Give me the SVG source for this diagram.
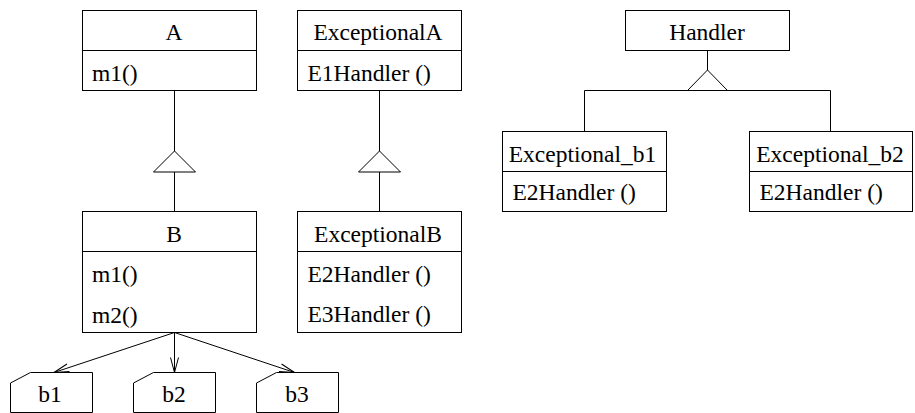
<svg xmlns="http://www.w3.org/2000/svg" width="915" height="413" viewBox="0 0 915 413">
  <style>
    .box { fill: #fff; stroke: #000; stroke-width: 1; }
    .sep { stroke: #000; stroke-width: 1; fill: none; }
    .line { stroke: #000; stroke-width: 1; fill: none; }
    .tri { fill: #fff; stroke: #000; stroke-width: 1; }
    text { font-family: "Liberation Serif", "Times New Roman", serif; font-size: 23.5px; fill: #000; }
    .c { text-anchor: middle; }
  </style>
  <defs>
    <marker id="open" markerUnits="userSpaceOnUse" markerWidth="20" markerHeight="12" viewBox="-16 -6 18 12" refX="0" refY="0" orient="auto">
      <path d="M-15,-4 L0,0 L-15,4" fill="none" stroke="#000" stroke-width="1"/>
    </marker>
  </defs>

  <!-- class A -->
  <g id="A">
    <rect class="box" x="82.5" y="10.5" width="174" height="80"/>
    <line class="sep" x1="82.5" y1="50.5" x2="256.5" y2="50.5"/>
    <text class="c" x="174" y="40">A</text>
    <text x="92" y="81">m1()</text>
  </g>

  <!-- class B -->
  <g id="B">
    <rect class="box" x="82.5" y="211.5" width="174" height="121"/>
    <line class="sep" x1="82.5" y1="251.5" x2="256.5" y2="251.5"/>
    <text class="c" x="174" y="242">B</text>
    <text x="92" y="282">m1()</text>
    <text x="92" y="323">m2()</text>
  </g>

  <!-- class ExceptionalA -->
  <g id="ExceptionalA">
    <rect class="box" x="297.5" y="10.5" width="164" height="80"/>
    <line class="sep" x1="297.5" y1="50.5" x2="461.5" y2="50.5"/>
    <text class="c" x="378" y="40">ExceptionalA</text>
    <text x="307.5" y="81">E1Handler ()</text>
  </g>

  <!-- class ExceptionalB -->
  <g id="ExceptionalB">
    <rect class="box" x="297.5" y="211.5" width="164" height="121"/>
    <line class="sep" x1="297.5" y1="251.5" x2="461.5" y2="251.5"/>
    <text class="c" x="378" y="242">ExceptionalB</text>
    <text x="307.5" y="282">E2Handler ()</text>
    <text x="307.5" y="322">E3Handler ()</text>
  </g>

  <!-- class Handler -->
  <g id="Handler">
    <rect class="box" x="625.5" y="10.5" width="164" height="40"/>
    <text class="c" x="707" y="40">Handler</text>
  </g>

  <!-- class Exceptional_b1 -->
  <g id="Exceptional_b1">
    <rect class="box" x="502.5" y="131.5" width="164" height="80"/>
    <line class="sep" x1="502.5" y1="171.5" x2="666.5" y2="171.5"/>
    <text class="c" x="582.5" y="162">Exceptional_b1</text>
    <text x="512.5" y="200">E2Handler ()</text>
  </g>

  <!-- class Exceptional_b2 -->
  <g id="Exceptional_b2">
    <rect class="box" x="749.5" y="131.5" width="163" height="80"/>
    <line class="sep" x1="749.5" y1="171.5" x2="912.5" y2="171.5"/>
    <text class="c" x="830" y="162">Exceptional_b2</text>
    <text x="759.5" y="200">E2Handler ()</text>
  </g>

  <!-- objects b1, b2, b3 (folded top-left corner) -->
  <g id="b1">
    <path class="box" d="M10.5,383 L30.5,372.5 L92.5,372.5 L92.5,412.5 L10.5,412.5 Z"/>
    <text class="c" x="50" y="402">b1</text>
  </g>
  <g id="b2">
    <path class="box" d="M133.5,383 L153.5,372.5 L215.5,372.5 L215.5,412.5 L133.5,412.5 Z"/>
    <text class="c" x="174" y="402">b2</text>
  </g>
  <g id="b3">
    <path class="box" d="M256.5,383 L276.5,372.5 L338.5,372.5 L338.5,412.5 L256.5,412.5 Z"/>
    <text class="c" x="297" y="402">b3</text>
  </g>

  <!-- connectors -->
  <g id="connectors">
    <!-- A <|- B -->
    <line class="line" x1="174.5" y1="90.5" x2="174.5" y2="151"/>
    <polygon class="tri" points="174.5,151 153.5,172 195.5,172"/>
    <line class="line" x1="174.5" y1="172" x2="174.5" y2="211.5"/>

    <!-- ExceptionalA <|- ExceptionalB -->
    <line class="line" x1="379.5" y1="90.5" x2="379.5" y2="151"/>
    <polygon class="tri" points="379.5,151 358.5,172 400.5,172"/>
    <line class="line" x1="379.5" y1="172" x2="379.5" y2="211.5"/>

    <!-- Handler <|- Exceptional_b1, Exceptional_b2 -->
    <line class="line" x1="707.5" y1="50.5" x2="707.5" y2="70"/>
    <polygon class="tri" points="707.5,70 687.5,90.5 727.5,90.5"/>
    <polyline class="line" points="584.5,131.5 584.5,90.5 830.5,90.5 830.5,131.5"/>

    <!-- B -> b1, b2, b3 -->
    <line class="line" x1="174.5" y1="332.5" x2="54" y2="372.5" marker-end="url(#open)"/>
    <line class="line" x1="174.5" y1="332.5" x2="174.5" y2="372.5" marker-end="url(#open)"/>
    <line class="line" x1="174.5" y1="332.5" x2="294.5" y2="372.5" marker-end="url(#open)"/>
  </g>
</svg>
